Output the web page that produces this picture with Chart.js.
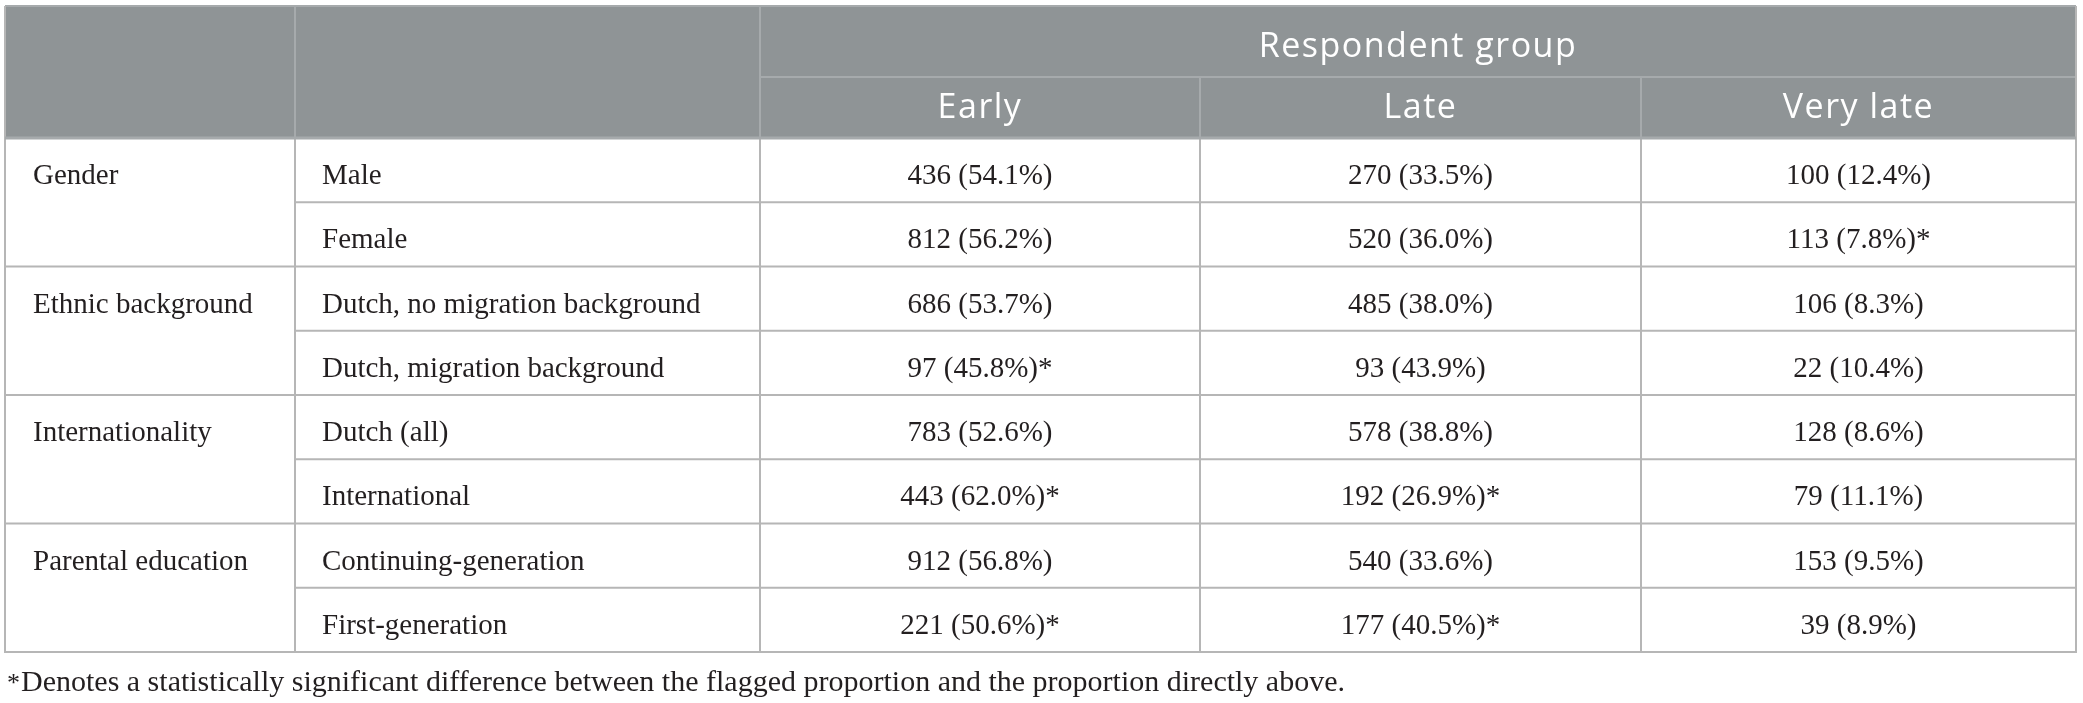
<!DOCTYPE html>
<html>
<head>
<meta charset="utf-8">
<title>Respondent group by background</title>
<script src="https://cdn.jsdelivr.net/npm/chart.js@4.4.1/dist/chart.umd.min.js"></script>
<style>
  html, body { margin: 0; padding: 0; background: #ffffff; }
  #tbl { display: block; }
</style>
</head>
<body>
<canvas id="tbl" width="2083" height="703"></canvas>
<script>
// table data
const groupLabels = ['Gender', 'Ethnic background', 'Internationality', 'Parental education']
const groupSizes = [2, 2, 2, 2]
const subgroupLabels = [
    'Male', 'Female',
    'Dutch, no migration background', 'Dutch, migration background',
    'Dutch (all)', 'International',
    'Continuing-generation', 'First-generation'
]
const headerTitle = 'Respondent group'
const respondentGroups = ['Early', 'Late', 'Very late']

const earlyCounts = [436, 812, 686, 97, 783, 443, 912, 221]
const earlyPct = [54.1, 56.2, 53.7, 45.8, 52.6, 62.0, 56.8, 50.6]
const earlyFlag = [false, false, false, true, false, true, false, true]

const lateCounts = [270, 520, 485, 93, 578, 192, 540, 177]
const latePct = [33.5, 36.0, 38.0, 43.9, 38.8, 26.9, 33.6, 40.5]
const lateFlag = [false, false, false, false, false, true, false, true]

const veryLateCounts = [100, 113, 106, 22, 128, 79, 153, 39]
const veryLatePct = [12.4, 7.8, 8.3, 10.4, 8.6, 11.1, 9.5, 8.9]
const veryLateFlag = [false, true, false, false, false, false, false, false]

const footnote = 'Denotes a statistically significant difference between the flagged proportion and the proportion directly above.'

// column edges in x-scale units
const colEdges = [0, 290, 755, 1195, 1636, 2071]

const HEAD_BG = '#8f9496'
const HEAD_LINE = '#a6aaac'
const GRID = '#b6b6b6'
const INK = '#231f20'
const SERIF = '"Liberation Serif", "DejaVu Serif", serif'
const SANS = '"Open Sans", "Noto Sans", sans-serif'

const cellText = (n, p, f) => `${n} (${p.toFixed(1)}%)${f ? '*' : ''}`

const columns = [
    earlyCounts.map((n, i) => cellText(n, earlyPct[i], earlyFlag[i])),
    lateCounts.map((n, i) => cellText(n, latePct[i], lateFlag[i])),
    veryLateCounts.map((n, i) => cellText(n, veryLatePct[i], veryLateFlag[i]))
]

const hline = (ctx, x0, x1, y, w, c) => {
    ctx.fillStyle = c
    ctx.fillRect(x0, y - w / 2, x1 - x0, w)
}
const vline = (ctx, x, y0, y1, w, c) => {
    ctx.fillStyle = c
    ctx.fillRect(x - w / 2, y0, w, y1 - y0)
}

const tablePlugin = {
    id: 'tablePlugin',
    beforeDraw(chart) {
        const ctx = chart.ctx
        ctx.save()
        ctx.fillStyle = '#ffffff'
        ctx.fillRect(0, 0, chart.width, chart.height)
        ctx.restore()
    },
    afterDraw(chart) {
        const ctx = chart.ctx
        const xs = chart.scales.x
        const ys = chart.scales.y
        const area = chart.chartArea
        const band = (area.bottom - area.top) / subgroupLabels.length
        const edge = colEdges.map(v => xs.getPixelForValue(v))
        const left = edge[0]
        const right = edge[edge.length - 1]
        const headTop = area.top - 132
        const headMid = area.top - 61
        const rowTop = i => ys.getPixelForValue(i) - band / 2
        const mid = (a, b) => (a + b) / 2

        ctx.save()

        // header block
        ctx.fillStyle = HEAD_BG
        ctx.fillRect(left, headTop, right - left, area.top - headTop)
        hline(ctx, left, right, headTop, 2, HEAD_LINE)
        hline(ctx, edge[2], right, headMid, 2, HEAD_LINE)
        vline(ctx, edge[1], headTop, area.top, 2, HEAD_LINE)
        vline(ctx, edge[2], headTop, area.top, 2, HEAD_LINE)
        vline(ctx, edge[3], headMid, area.top, 2, HEAD_LINE)
        vline(ctx, edge[4], headMid, area.top, 2, HEAD_LINE)

        ctx.fillStyle = '#ffffff'
        ctx.font = `34px ${SANS}`
        ctx.letterSpacing = '1.5px'
        ctx.textAlign = 'center'
        ctx.textBaseline = 'alphabetic'
        ctx.fillText(headerTitle, mid(edge[2], right), headTop + 51)
        respondentGroups.forEach((g, k) => {
            ctx.fillText(g, mid(edge[k + 2], edge[k + 3]), headMid + 41)
        })
        ctx.letterSpacing = '0px'

        // body grid
        let start = 0
        groupSizes.forEach(size => {
            for (let r = start + 1; r < start + size; r++) {
                hline(ctx, edge[1], right, rowTop(r), 2, GRID)
            }
            start += size
            hline(ctx, left, right, rowTop(start), 2, GRID)
        })
        edge.forEach((e, k) => {
            if (k === 0 || k === edge.length - 1) {
                vline(ctx, e, headTop, area.bottom + 1, 2, GRID)
            } else {
                vline(ctx, e, area.top, area.bottom, 2, GRID)
            }
        })
        hline(ctx, left, right, area.top, 3, HEAD_LINE)

        // body text
        ctx.fillStyle = INK
        ctx.font = `29px ${SERIF}`
        ctx.textBaseline = 'alphabetic'
        start = 0
        groupLabels.forEach((g, k) => {
            ctx.textAlign = 'left'
            ctx.fillText(g, left + 28, ys.getPixelForValue(start) + 14)
            start += groupSizes[k]
        })
        subgroupLabels.forEach((s, i) => {
            const cy = ys.getPixelForValue(i) + 14
            ctx.textAlign = 'left'
            ctx.fillText(s, edge[1] + 27, cy)
            ctx.textAlign = 'center'
            columns.forEach((col, k) => {
                ctx.fillText(col[i], mid(edge[k + 2], edge[k + 3]), cy)
            })
        })

        // footnote
        ctx.textAlign = 'left'
        ctx.font = `26px ${SERIF}`
        ctx.fillText('*', left + 2, area.bottom + 39)
        ctx.font = `30px ${SERIF}`
        ctx.fillText(footnote, left + 16, area.bottom + 39)

        ctx.restore()
    }
}

const config = {
    type: 'scatter',
    data: { labels: subgroupLabels, datasets: [] },
    options: {
        responsive: false,
        animation: false,
        devicePixelRatio: 1,
        events: [],
        layout: { padding: { left: 5, right: 7, top: 138, bottom: 51 } },
        plugins: { legend: { display: false }, tooltip: { enabled: false } },
        scales: {
            x: { type: 'linear', min: 0, max: colEdges[colEdges.length - 1], display: false },
            y: { type: 'category', labels: subgroupLabels, offset: true, display: false }
        }
    },
    plugins: [tablePlugin]
}

let ctx = document.querySelector('#tbl').getContext('2d')
const tableChart = new Chart(ctx, config)
</script>
</body>
</html>
